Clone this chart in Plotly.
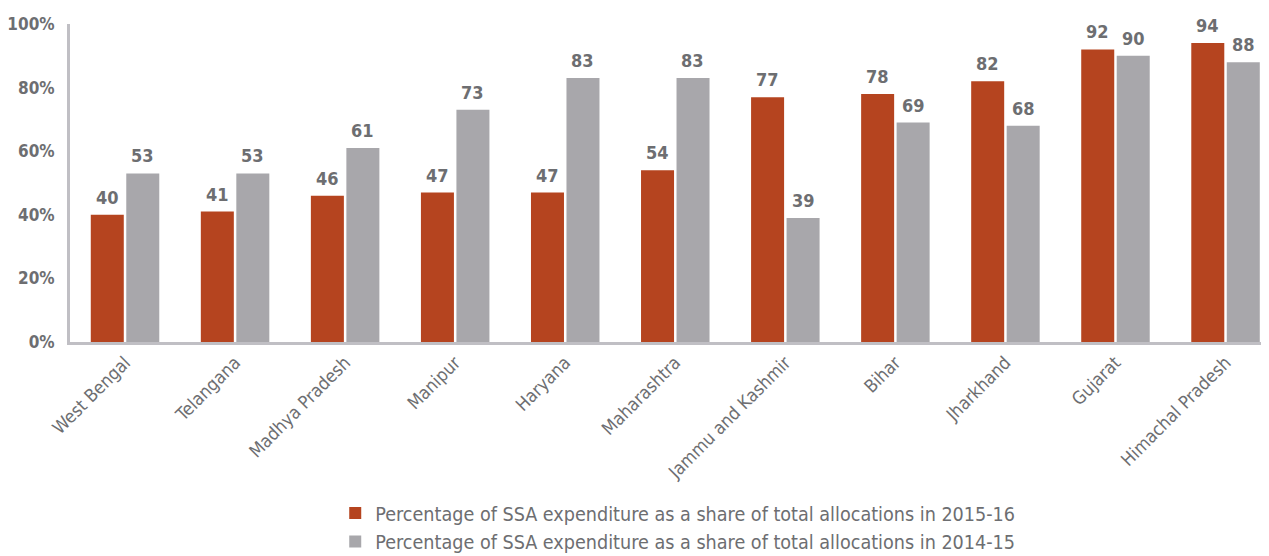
import plotly.graph_objects as go

RED = "#b5441f"
GREY = "#a8a7ab"
TEXT = "#6d6e71"
AXIS = "#c0bfc4"
FONT = "DejaVu Sans Condensed, DejaVu Sans, sans-serif"

states = ["West Bengal", "Telangana", "Madhya Pradesh", "Manipur", "Haryana",
          "Maharashtra", "Jammu and Kashmir", "Bihar", "Jharkhand", "Gujarat",
          "Himachal Pradesh"]
share_2015_16 = [40, 41, 46, 47, 47, 54, 77, 78, 82, 92, 94]
share_2014_15 = [53, 53, 61, 73, 83, 83, 39, 69, 68, 90, 88]

fig = go.Figure()
fig.add_trace(go.Bar(
    x=states, y=share_2015_16,
    name="Percentage of SSA expenditure as a share of total allocations in 2015-16",
    marker_color=RED,
))
fig.add_trace(go.Bar(
    x=states, y=share_2014_15,
    name="Percentage of SSA expenditure as a share of total allocations in 2014-15",
    marker_color=GREY,
))
fig.update_traces(marker_line_width=0)

# value labels above each bar (offset to the left/right bar of each group)
for series, dx in ((share_2015_16, -17.7), (share_2014_15, 17.7)):
    for s, v in zip(states, series):
        fig.add_annotation(x=s, y=v, text=str(v), showarrow=False,
                           xshift=dx, yshift=5, yanchor="bottom",
                           font=dict(size=18, color=TEXT, family=FONT, weight="bold"))

# page body has an 8px margin, so the figure is a little smaller than the window
fig.update_layout(
    width=1261, height=548,
    paper_bgcolor="white", plot_bgcolor="white",
    font=dict(family=FONT, color=TEXT),
    barmode="group", bargap=0.355, bargroupgap=0.07,
    margin=dict(l=62, r=0, t=16, b=214, autoexpand=False),
    showlegend=True,
    legend=dict(orientation="v", xref="container", yref="container",
                x=0.2595, xanchor="left", y=0.1135, yanchor="top",
                font=dict(size=19.6, color=TEXT, family=FONT),
                tracegroupgap=0, itemwidth=30),
)
# the source chart is cropped on the right, the last group sits near the edge
fig.update_xaxes(range=[-0.5, 10.395], showline=True, linecolor=AXIS, linewidth=3,
                 tickangle=-45, tickfont=dict(size=18, color=TEXT), ticks="",
                 showgrid=False)
fig.update_yaxes(range=[0, 100], tickvals=[0, 20, 40, 60, 80, 100],
                 ticktext=["0%", "20%", "40%", "60%", "80%", "100%"],
                 showline=True, linecolor=AXIS, linewidth=3, showgrid=False,
                 zeroline=False, tickfont=dict(size=17, color=TEXT, weight="bold"), ticks="",
                 ticklabelstandoff=9)

fig.write_html("out.html")
